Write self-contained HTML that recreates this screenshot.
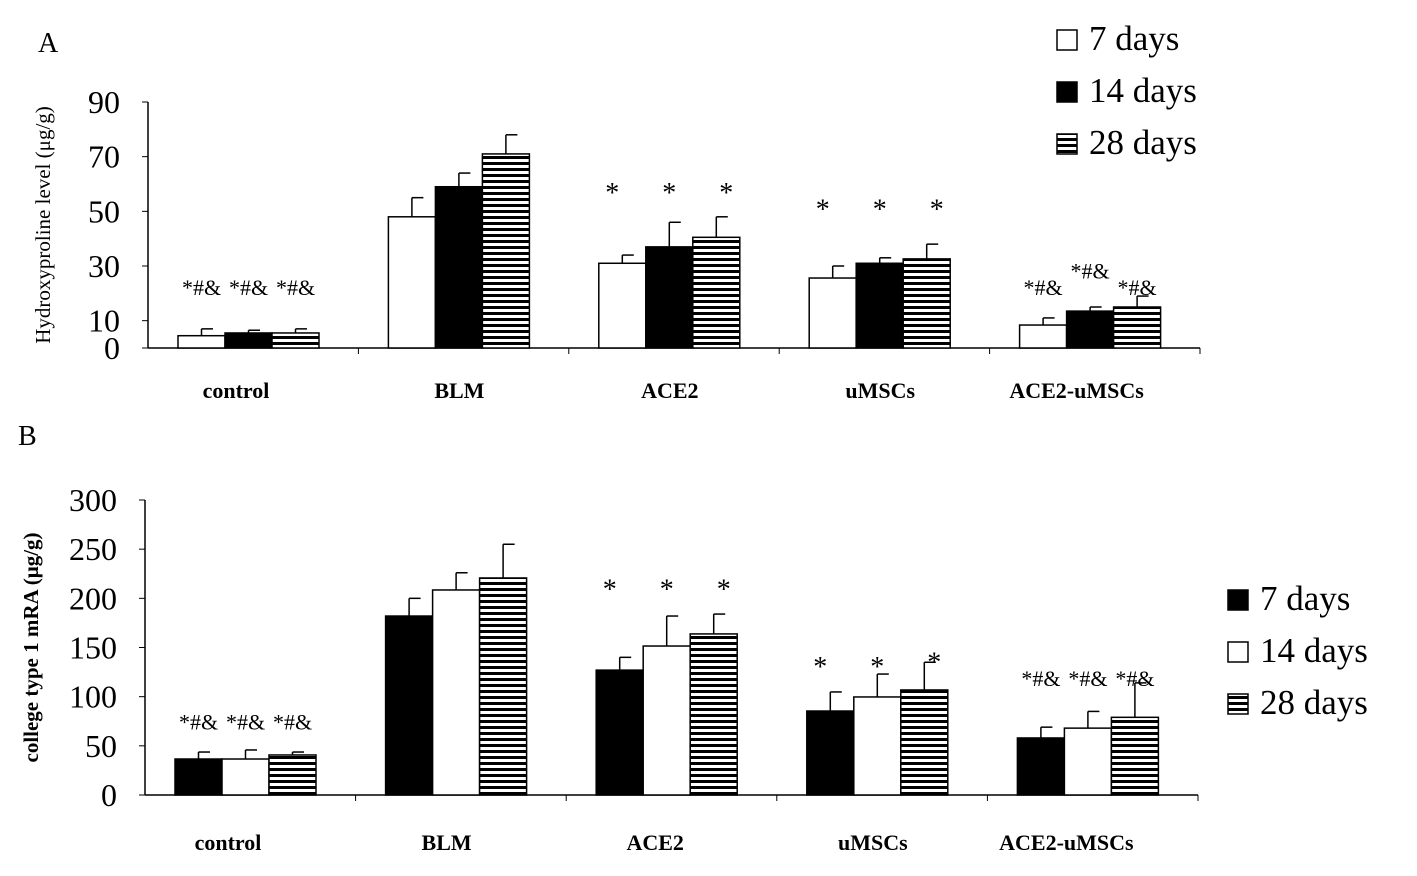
<!DOCTYPE html>
<html><head><meta charset="utf-8"><style>
body{margin:0;background:#fff;}
svg text{font-family:"Liberation Serif",serif;}
</style></head><body>
<svg id="c" width="1417" height="871" xmlns="http://www.w3.org/2000/svg">
<defs>
<pattern id="hs" width="8" height="6" patternUnits="userSpaceOnUse"><rect width="8" height="6" fill="#fff"/><rect y="0" width="8" height="3" fill="#000"/></pattern>
</defs>
</svg>
<script>
const groups=["control","BLM","ACE2","uMSCs","ACE2-uMSCs"];
const aVals=[[4.5,5.5,5.5],[48,59,71],[31,37,40.5],[25.6,31,32.6],[8.4,13.5,15]];
const aErr=[[7,6.5,7],[55,64,78],[34,46,48],[30,33,38],[11,15,19]];
const aTicks=[0,10,30,50,70,90];
const aAnn=[["*#&","*#&","*#&"],["","",""],["*","*","*"],["*","*","*"],["*#&","*#&","*#&"]];
const aAnnY=[[23,23,23],[0,0,0],[57,57,57],[51,51,51],[23,29,23]];
const bVals=[[36.6,36.6,40.7],[182,208.5,220.7],[127,151.5,163.8],[85.4,99.7,106.8],[58,68,79]];
const bErr=[[43.7,45.8,43.7],[200,226,255],[140,182,184],[104.8,123,135],[69,85,114]];
const bTicks=[0,50,100,150,200,250,300];
const bAnn=[["*#&","*#&","*#&"],["","",""],["*","*","*"],["*","*","*"],["*#&","*#&","*#&"]];
const bAnnY=[[77,77,77],[0,0,0],[210,210,210],[131,131,136],[121,121,121]];
const svg=document.getElementById('c');const NS="http://www.w3.org/2000/svg";
function mk(t,a,txt){const e=document.createElementNS(NS,t);for(const k in a)e.setAttribute(k,a[k]);if(txt!=null)e.textContent=txt;svg.appendChild(e);return e;}
function panel(o){
 const y=v=>o.y0-(v/o.max)*(o.y0-o.yTop);
 let e=mk('line',{x1:o.x0,y1:o.yTop,x2:o.x0,y2:o.y0,stroke:'#000','stroke-width':1.5});
 
 e=mk('line',{x1:o.x0,y1:o.y0,x2:o.x1,y2:o.y0,stroke:'#000','stroke-width':1.5});
 
 o.ticks.forEach(t=>{mk('line',{x1:o.x0-6,y1:y(t),x2:o.x0,y2:y(t),stroke:'#000'});
  e=mk('text',{x:o.x0-28,y:y(t)+11,'font-size':32,'text-anchor':'end'},t);
  });
 const gw=(o.x1-o.x0)/groups.length;
 groups.forEach((g,i)=>{
  mk('line',{x1:o.x0+gw*(i+1),y1:o.y0,x2:o.x0+gw*(i+1),y2:o.y0+6,stroke:'#000'});
  const gx=o.x0+gw*i+30;
  e=mk('text',{x:gx+71+o.lblOff[i],y:o.lblY,'font-size':22,'font-weight':'bold','text-anchor':'middle'},g);
  
  o.vals[i].forEach((v,j)=>{
   const bx=gx+j*47;
   e=mk('rect',{x:bx,y:y(v),width:47,height:o.y0-y(v),fill:o.fills[j],stroke:'#000','stroke-width':1.5});
   
   mk('line',{x1:bx+23.5,y1:y(v),x2:bx+23.5,y2:y(o.err[i][j]),stroke:'#000','stroke-width':1.5});
   mk('line',{x1:bx+23.5,y1:y(o.err[i][j]),x2:bx+35,y2:y(o.err[i][j]),stroke:'#000','stroke-width':1.5});
   if(o.ann[i][j]){e=mk('text',{x:bx+23.5+(o.ann[i][j]=='*'?(j-1)*10:0),y:y(o.annY[i][j])+10,'font-size':o.ann[i][j]=='*'?28:22,'text-anchor':'middle'},o.ann[i][j]);
    }
  });
 });
 e=mk('text',{transform:`translate(${o.titleX},${(o.yTop+o.y0)/2}) rotate(-90)`,'font-size':21,'font-weight':o.titleW,'text-anchor':'middle'},o.title);
 
 o.legend.forEach((L,k)=>{
  e=mk('rect',{x:o.lx,y:o.ly+k*52-20,width:20,height:20,fill:L[1],stroke:'#000','stroke-width':1.5});
  
  e=mk('text',{x:o.lx+32,y:o.ly+k*52,'font-size':35},L[0]);
  
 });
 e=mk('text',{x:o.px,y:o.py,'font-size':28},o.p);
 
}
panel({p:'A',x0:148,x1:1200,y0:348,yTop:102,max:90,ticks:aTicks,vals:aVals,err:aErr,ann:aAnn,annY:aAnnY,
 fills:['#fff','#000','url(#hs)'],lblY:398,lblOff:[-13,0,0,0,-14],title:'Hydroxyproline level (μg/g)',titleX:50,titleW:'normal',
 legend:[['7 days','#fff'],['14 days','#000'],['28 days','url(#hs)']],lx:1057,ly:50,px:38,py:52});
panel({p:'B',x0:145,x1:1198,y0:795,yTop:500,max:300,ticks:bTicks,vals:bVals,err:bErr,ann:bAnn,annY:bAnnY,
 fills:['#000','#fff','url(#hs)'],lblY:850,lblOff:[-18,-10,-12,-5,-22],title:'college type 1 mRA (μg/g)',titleX:38,titleW:'bold',
 legend:[['7 days','#000'],['14 days','#fff'],['28 days','url(#hs)']],lx:1228,ly:610,px:18,py:445});
</script>
</body></html>
